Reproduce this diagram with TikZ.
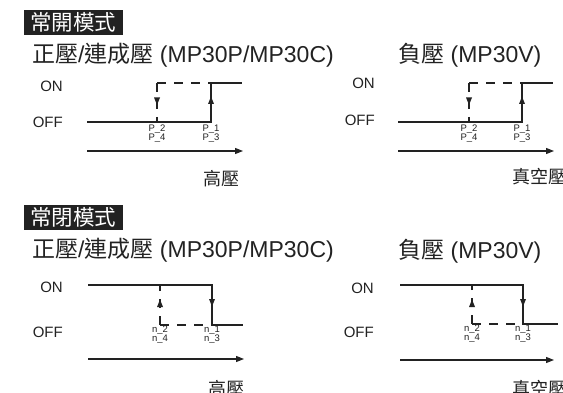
\documentclass[tikz,border=0pt]{standalone}
\usepackage{fontspec}
\setmainfont{Liberation Sans}
\newfontfamily\cjk{Noto Sans CJK TC}
\usetikzlibrary{arrows.meta}
\definecolor{ink}{HTML}{222222}
\begin{document}
\begin{tikzpicture}[x=1pt,y=-1pt,
  ln/.style={line width=1.1pt,draw=ink},
  dsh/.style={ln,dash pattern=on 9pt off 8pt},
  axisline/.style={ln,-{Triangle[width=6pt,length=8pt]}},
  tipfill/.style={fill=ink},
  onoff/.style={font=\fontsize{15}{15}\selectfont,anchor=base east,inner sep=0pt,text=ink},
  title/.style={font=\fontsize{23}{23}\selectfont,anchor=base west,inner sep=0pt,text=ink},
  modebox/.style={fill=ink,text=white,font=\cjk\fontsize{21.5}{21.5}\selectfont,minimum width=99pt,minimum height=25pt,inner sep=0pt},
  thr/.style={font=\fontsize{9.5}{9.3}\selectfont,align=center,anchor=north,inner sep=0pt,text=ink},
  xlab/.style={font=\cjk\fontsize{18}{18}\selectfont,anchor=base west,inner sep=0pt,text=ink},
]
\useasboundingbox (0,0) rectangle (563,393);
\clip (0,0) rectangle (563,393);

% ---------- 常開模式 ----------
\node[modebox] (nobox) at (73.5,22.5) {常開模式};
\node[title] (t1) at (32,62.5) {{\cjk 正壓}/{\cjk 連成壓} (MP30P/MP30C)};
\node[title] (t2) at (398,62.5) {{\cjk 負壓} (MP30V)};

% top-left
\node[onoff] (on1) at (63,91.4) {ON};
\node[onoff] (off1) at (63,127.4) {OFF};
\coordinate (a1) at (87,122);
\coordinate (b1) at (211,122);
\coordinate (c1) at (211,83);
\coordinate (d1) at (242,83);
\coordinate (e1) at (157,122);
\coordinate (f1) at (157,83);
\draw[ln] (a1) -- (b1) -- (c1) -- (d1);
\draw[dsh] (f1) -- (e1);
\draw[dsh] (f1) -- (c1);
\fill[tipfill] (157,105) -- (154,97.5) -- (160,97.5) -- cycle;
\fill[tipfill] (211,96.5) -- (208,104) -- (214,104) -- cycle;
\node[thr] (p24a) at (157,124.5) {P\_2\\P\_4};
\node[thr] (p13a) at (211,124.5) {P\_1\\P\_3};
\coordinate (g1) at (87,151);
\coordinate (h1) at (243,151);
\draw[axisline] (g1) -- (h1);
\node[xlab] (x1) at (203,185.5) {高壓};

% top-right
\node[onoff] (on2) at (375,88.4) {ON};
\node[onoff] (off2) at (375,125.4) {OFF};
\coordinate (a2) at (398,122);
\coordinate (b2) at (522,122);
\coordinate (c2) at (522,83);
\coordinate (d2) at (553,83);
\coordinate (e2) at (469,122);
\coordinate (f2) at (469,83);
\draw[ln] (a2) -- (b2) -- (c2) -- (d2);
\draw[dsh] (f2) -- (e2);
\draw[dsh] (f2) -- (c2);
\fill[tipfill] (469,105) -- (466,97.5) -- (472,97.5) -- cycle;
\fill[tipfill] (522,96.5) -- (519,104) -- (525,104) -- cycle;
\node[thr] (p24b) at (469,124.5) {P\_2\\P\_4};
\node[thr] (p13b) at (522,124.5) {P\_1\\P\_3};
\coordinate (g2) at (398,151);
\coordinate (h2) at (554,151);
\draw[axisline] (g2) -- (h2);
\node[xlab] (x2) at (512,183.5) {真空壓};

% ---------- 常閉模式 ----------
\node[modebox] (ncbox) at (73.5,217.5) {常閉模式};
\node[title] (t3) at (32,257.5) {{\cjk 正壓}/{\cjk 連成壓} (MP30P/MP30C)};
\node[title] (t4) at (398,258.5) {{\cjk 負壓} (MP30V)};

% bottom-left
\node[onoff] (on3) at (63,292.4) {ON};
\node[onoff] (off3) at (63,337.4) {OFF};
\coordinate (a3) at (88,285);
\coordinate (b3) at (212,285);
\coordinate (c3) at (212,325);
\coordinate (d3) at (243,325);
\coordinate (e3) at (160,285);
\coordinate (f3) at (160,325);
\draw[ln] (a3) -- (b3) -- (c3) -- (d3);
\draw[dsh] (f3) -- (e3);
\draw[dsh] (f3) -- (c3);
\fill[tipfill] (160,299.5) -- (157,307) -- (163,307) -- cycle;
\fill[tipfill] (212,306.5) -- (209,299) -- (215,299) -- cycle;
\node[thr] (n24a) at (160,325.5) {n\_2\\n\_4};
\node[thr] (n13a) at (212,325.5) {n\_1\\n\_3};
\coordinate (g3) at (88,359);
\coordinate (h3) at (244,359);
\draw[axisline] (g3) -- (h3);
\node[xlab] (x3) at (208,395.5) {高壓};

% bottom-right
\node[onoff] (on4) at (374,293.4) {ON};
\node[onoff] (off4) at (374,337.4) {OFF};
\coordinate (a4) at (400,285);
\coordinate (b4) at (523,285);
\coordinate (c4) at (523,324);
\coordinate (d4) at (558,324);
\coordinate (e4) at (472,285);
\coordinate (f4) at (472,324);
\draw[ln] (a4) -- (b4) -- (c4) -- (d4);
\draw[dsh] (f4) -- (e4);
\draw[dsh] (f4) -- (c4);
\fill[tipfill] (472,299.5) -- (469,307) -- (475,307) -- cycle;
\fill[tipfill] (523,306.5) -- (520,299) -- (526,299) -- cycle;
\node[thr] (n24b) at (472,324.5) {n\_2\\n\_4};
\node[thr] (n13b) at (523,324.5) {n\_1\\n\_3};
\coordinate (g4) at (400,360);
\coordinate (h4) at (554,360);
\draw[axisline] (g4) -- (h4);
\node[xlab] (x4) at (512,395.5) {真空壓};
\end{tikzpicture}
\end{document}
